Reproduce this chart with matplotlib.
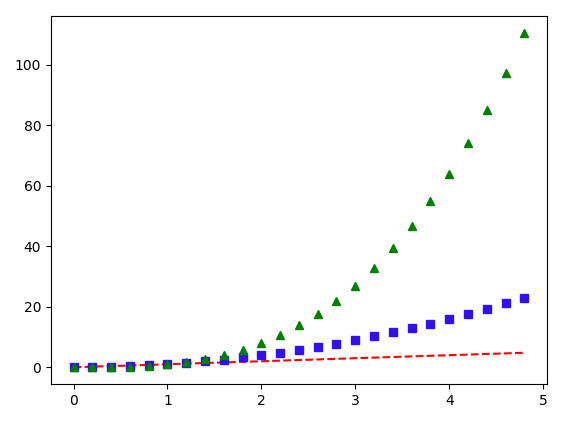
import matplotlib
matplotlib.use("Agg")
import matplotlib.pyplot as plt

t = [0.0, 0.2, 0.4, 0.6, 0.8, 1.0, 1.2, 1.4, 1.6, 1.8, 2.0, 2.2, 2.4,
     2.6, 2.8, 3.0, 3.2, 3.4, 3.6, 3.8, 4.0, 4.2, 4.4, 4.6, 4.8]
linear = [0.0, 0.2, 0.4, 0.6, 0.8, 1.0, 1.2, 1.4, 1.6, 1.8, 2.0, 2.2, 2.4,
          2.6, 2.8, 3.0, 3.2, 3.4, 3.6, 3.8, 4.0, 4.2, 4.4, 4.6, 4.8]
square = [0.0, 0.04, 0.16, 0.36, 0.64, 1.0, 1.44, 1.96, 2.56, 3.24, 4.0,
          4.84, 5.76, 6.76, 7.84, 9.0, 10.24, 11.56, 12.96, 14.44, 16.0,
          17.64, 19.36, 21.16, 23.04]
cube = [0.0, 0.008, 0.064, 0.216, 0.512, 1.0, 1.728, 2.744, 4.096, 5.832,
        8.0, 10.648, 13.824, 17.576, 21.952, 27.0, 32.768, 39.304, 46.656,
        54.872, 64.0, 74.088, 85.184, 97.336, 110.592]

fig = plt.figure(figsize=(5.83, 4.22), dpi=100)
fig.subplots_adjust(left=0.0875, right=0.938, top=0.962, bottom=0.09)
plt.plot(t, linear, 'r--')
plt.plot(t, square, 's', color='#3311ee')
plt.plot(t, cube, 'g^')
plt.savefig("out.png", dpi=100)
